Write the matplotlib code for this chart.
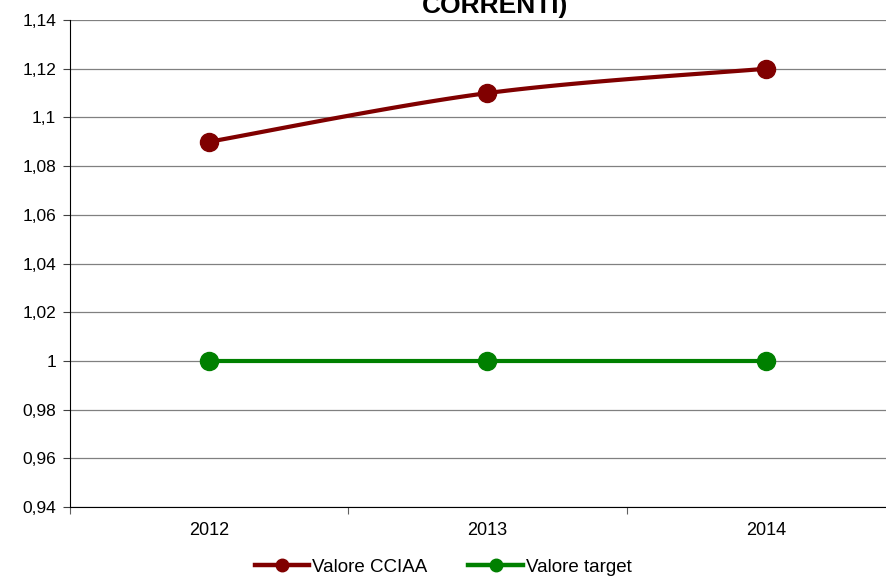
import numpy as np
import matplotlib
matplotlib.use("Agg")
import matplotlib.pyplot as plt
from matplotlib.ticker import FuncFormatter, FixedLocator

plt.rcParams['font.family'] = ['Liberation Sans', 'DejaVu Sans']

years = ['2012', '2013', '2014']
valore_cciaa = [1.09, 1.11, 1.12]
valore_target = [1.0, 1.0, 1.0]


def smooth(xs, ys, n=30):
    # Catmull-Rom style smoothing, like Excel's smoothed line
    xs = np.asarray(xs, float)
    ys = np.asarray(ys, float)
    px = np.concatenate([[xs[0]], xs, [xs[-1]]])
    py = np.concatenate([[ys[0]], ys, [ys[-1]]])
    ox, oy = [], []
    for i in range(1, len(px) - 2):
        t = np.linspace(0, 1, n)
        p0x, p1x, p2x, p3x = px[i - 1:i + 3]
        p0y, p1y, p2y, p3y = py[i - 1:i + 3]
        c1x, c1y = p1x + (p2x - p0x) / 6, p1y + (p2y - p0y) / 6
        c2x, c2y = p2x - (p3x - p1x) / 6, p2y - (p3y - p1y) / 6
        bx = (1 - t) ** 3 * p1x + 3 * (1 - t) ** 2 * t * c1x + 3 * (1 - t) * t ** 2 * c2x + t ** 3 * p2x
        by = (1 - t) ** 3 * p1y + 3 * (1 - t) ** 2 * t * c1y + 3 * (1 - t) * t ** 2 * c2y + t ** 3 * p2y
        ox.extend(bx)
        oy.extend(by)
    return ox, oy


fig = plt.figure(figsize=(8.86, 5.79), dpi=100)
ax = fig.add_axes([0.079, 0.1244, 0.9424, 0.841])

x = np.arange(len(years))
red = '#800000'
green = '#008000'

sx, sy = smooth(x, valore_cciaa)
ax.plot(sx, sy, color=red, lw=3, zorder=3)
ax.plot(x, valore_cciaa, 'o', color=red, ms=13, zorder=4)
ax.plot(x, valore_target, '-o', color=green, lw=3, ms=13, zorder=3)

ax.set_xlim(-0.5, 2.5)
ax.set_ylim(0.94, 1.14)
ax.set_yticks(np.arange(0.94, 1.1401, 0.02))
ax.yaxis.set_major_formatter(FuncFormatter(
    lambda v, p: ('%.2f' % v).rstrip('0').rstrip('.').replace('.', ',')))
ax.yaxis.grid(True, color='#808080', lw=0.9)
ax.set_axisbelow(True)

ax.xaxis.set_major_locator(FixedLocator([-0.5, 0.5, 1.5, 2.5]))
ax.xaxis.set_major_formatter(FuncFormatter(lambda v, p: ''))
ax.xaxis.set_minor_locator(FixedLocator(x))
ax.set_xticklabels(years, minor=True)
ax.tick_params(axis='x', which='minor', length=0, pad=11, labelsize=13)
ax.tick_params(axis='x', which='major', length=5, color='#606060')
ax.tick_params(axis='y', length=5, labelsize=12.5, color='#404040', pad=5)

for s in ['top', 'right']:
    ax.spines[s].set_visible(False)
ax.spines['left'].set_color('black')
ax.spines['bottom'].set_color('black')

# title is cut at the top edge in the original
fig.text(0.559, 1 - 13 / 579, 'CORRENTI)', ha='center', va='baseline',
         fontsize=19, fontweight='bold')

h1, = ax.plot([], [], '-o', color=red, lw=3.2, ms=9)
h2, = ax.plot([], [], '-o', color=green, lw=3.2, ms=9)
fig.legend([h1, h2], ['Valore CCIAA', 'Valore target'], loc='center',
           bbox_to_anchor=(0.5, 1 - 567 / 579), ncol=2, frameon=False,
           fontsize=13.5, handlelength=2.9, columnspacing=2.2, handletextpad=0.15)

fig.savefig('out.png', dpi=100)
